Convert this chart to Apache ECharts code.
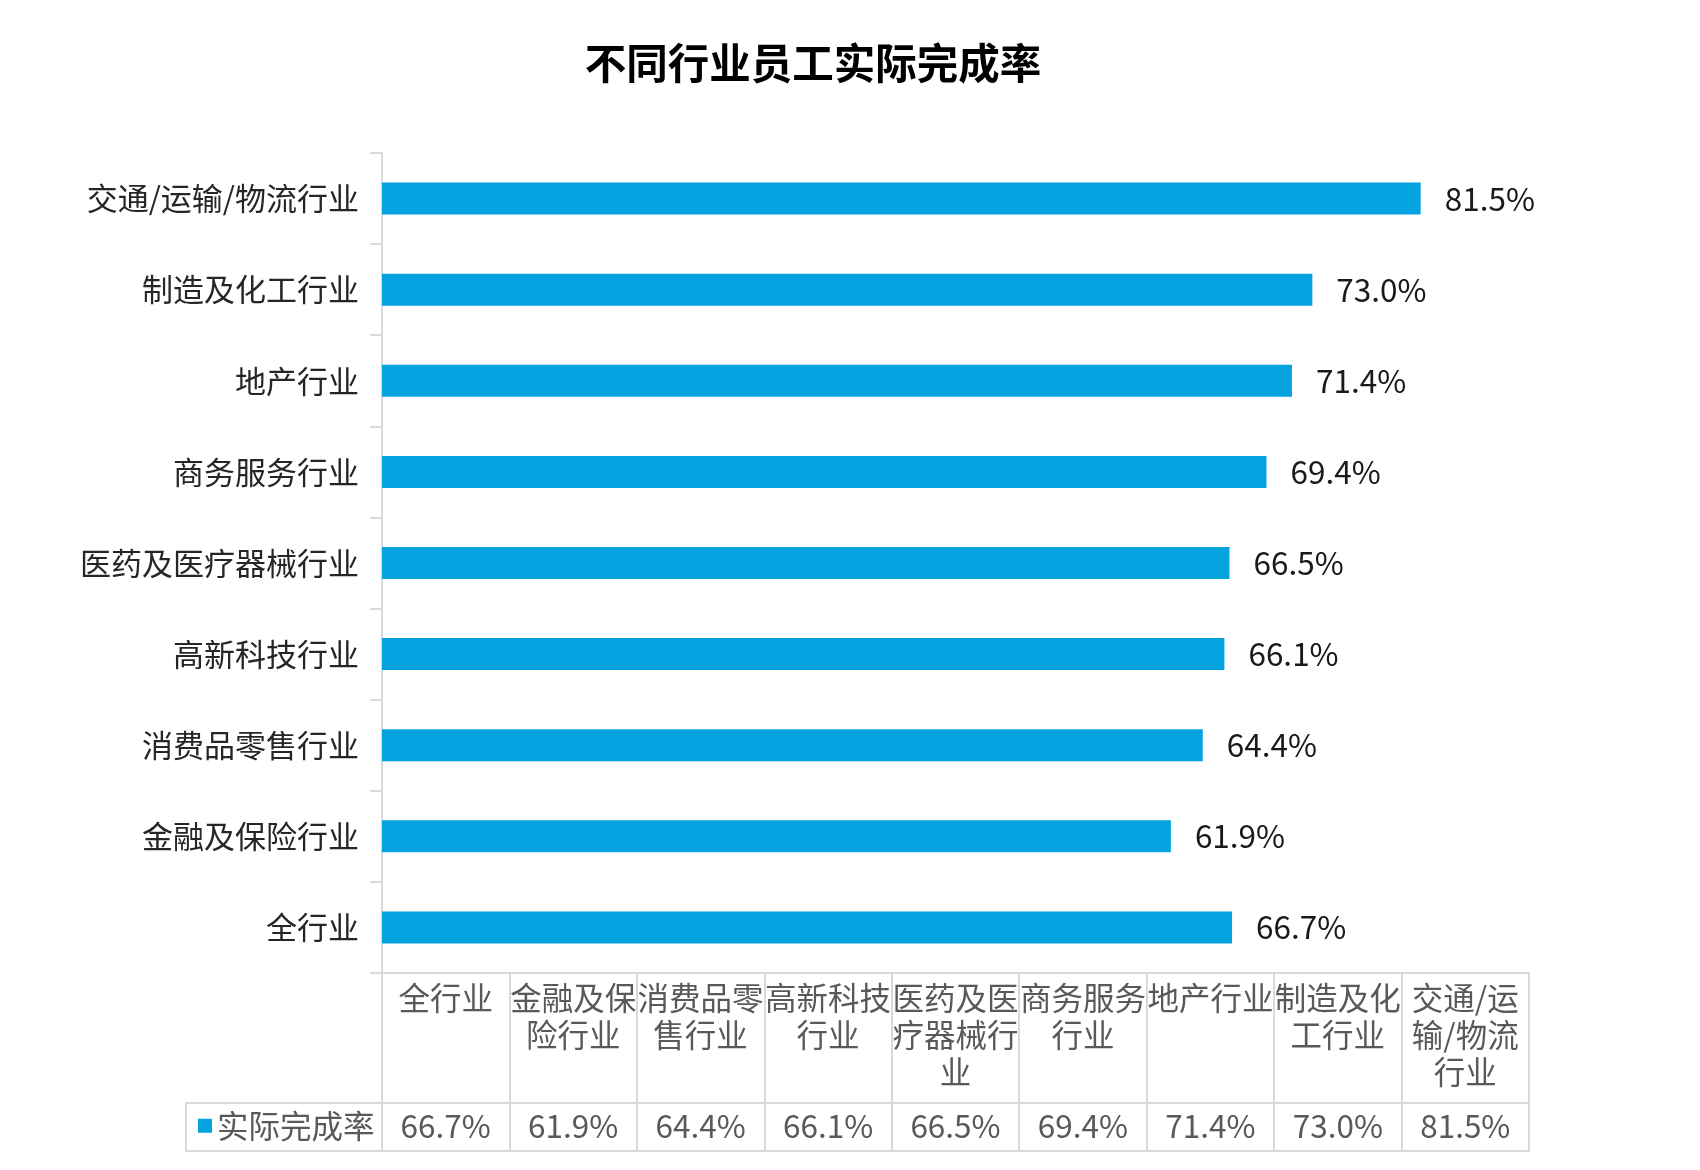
<!DOCTYPE html>
<html>
<head>
<meta charset="utf-8">
<script src="https://cdn.jsdelivr.net/npm/echarts@6/dist/echarts.min.js"></script>
<style>
html,body{margin:0;padding:0;background:#fff;}
#chart{width:1700px;height:1170px;}
</style>
</head>
<body>
<div id="chart"></div>
<script>
const titleText = '不同行业员工实际完成率';
const seriesName = '实际完成率';
const categories = ['全行业','金融及保险行业','消费品零售行业','高新科技行业','医药及医疗器械行业','商务服务行业','地产行业','制造及化工行业','交通/运输/物流行业'];
const values = [66.7, 61.9, 64.4, 66.1, 66.5, 69.4, 71.4, 73.0, 81.5];
const valueAxisMax = 90;

const FONT = '"Noto Sans CJK SC", "Noto Sans", sans-serif';
const BAR_COLOR = '#03a3e0';
const LINE_COLOR = '#d9d9d9';
const TABLE_TEXT = '#595959';
const FS = 31.5;
const fmt = v => v.toFixed(1) + '%';

const chart = echarts.init(document.getElementById('chart'), null, {renderer: 'canvas'});
chart.setOption({
  backgroundColor: '#fff',
  textStyle: {fontFamily: FONT},
  animation: false,
  title: {
    text: titleText,
    left: 808, top: 37, textAlign: 'center',
    textStyle: {fontFamily: FONT, fontSize: 41.5, fontWeight: 'bold', color: '#000'}
  },
  legend: {
    data: [seriesName],
    left: 198, top: 1110, padding: 0,
    icon: 'rect', itemWidth: 14, itemHeight: 14,
    selectedMode: false,
    textStyle: {fontFamily: FONT, fontSize: FS, color: TABLE_TEXT, lineHeight: 31}
  },
  grid: [
    {left: 382, right: 171, top: 153, bottom: 197},
    {left: 382, right: 171, top: 973, height: 130, show: true, borderColor: LINE_COLOR, borderWidth: 2},
    {left: 382, right: 171, top: 1103, height: 48, show: true, borderColor: LINE_COLOR, borderWidth: 2},
    {left: 186, width: 196, top: 1103, height: 48, show: true, borderColor: LINE_COLOR, borderWidth: 2}
  ],
  xAxis: [
    {gridIndex: 0, type: 'value', min: 0, max: valueAxisMax, show: false},
    {gridIndex: 1, type: 'category', data: categories, position: 'top', boundaryGap: true,
     axisLine: {show: false}, axisTick: {show: false},
     splitLine: {show: true, interval: 0, lineStyle: {color: LINE_COLOR, width: 2}},
     axisLabel: {inside: true, interval: 0, margin: 7, fontFamily: FONT, fontSize: FS, lineHeight: 37,
                 color: TABLE_TEXT, width: 130, overflow: 'break', align: 'center', verticalAlign: 'top'}},
    {gridIndex: 2, type: 'category', data: values.map(fmt), position: 'bottom', boundaryGap: true,
     axisLine: {show: false}, axisTick: {show: false},
     splitLine: {show: true, interval: 0, lineStyle: {color: LINE_COLOR, width: 2}},
     axisLabel: {inside: true, interval: 0, margin: 25, fontFamily: FONT, fontSize: FS,
                 color: TABLE_TEXT, verticalAlign: 'middle'}},
    {gridIndex: 3, type: 'value', show: false}
  ],
  yAxis: [
    {gridIndex: 0, type: 'category', data: categories, boundaryGap: true,
     axisLine: {show: true, lineStyle: {color: LINE_COLOR, width: 2}},
     axisTick: {show: true, length: 12, lineStyle: {color: LINE_COLOR, width: 2}},
     axisLabel: {margin: 23, fontFamily: FONT, fontSize: 31, color: '#262626'},
     splitLine: {show: false}},
    {gridIndex: 1, type: 'value', show: false},
    {gridIndex: 2, type: 'value', show: false},
    {gridIndex: 3, type: 'value', show: false}
  ],
  series: [{
    name: seriesName,
    type: 'bar',
    xAxisIndex: 0, yAxisIndex: 0,
    data: values,
    barWidth: 32,
    itemStyle: {color: BAR_COLOR},
    label: {show: true, position: 'right', distance: 24, fontFamily: FONT, fontSize: FS,
            color: '#1a1a1a', formatter: p => fmt(p.value)}
  }]
});
</script>
</body>
</html>
